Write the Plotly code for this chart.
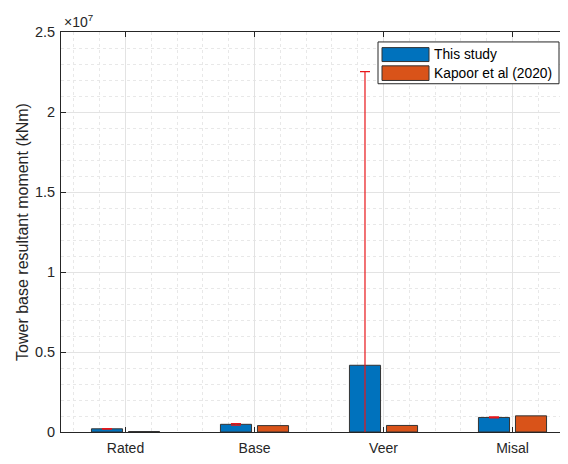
import plotly.graph_objects as go

categories = ["Rated", "Base", "Veer", "Misal"]
this_study = [0.20e6, 0.48e6, 4.17e6, 0.91e6]
this_study_err = [0.02e6, 0.05e6, 18.35e6, 0.03e6]
kapoor = [0.03e6, 0.40e6, 0.41e6, 1.01e6]
ytick_vals = [0, 0.5e7, 1.0e7, 1.5e7, 2.0e7, 2.5e7]
ytick_text = ["0", "0.5", "1", "1.5", "2", "2.5"]

BLUE = "#0072BD"
ORANGE = "#D95319"
EDGE = "#333333"
TXT = "#262626"
FONT = "Liberation Sans, Arial, sans-serif"

xpos = list(range(1, len(categories) + 1))

fig = go.Figure()
fig.add_trace(go.Bar(
    x=xpos, y=this_study, name="This study",
    marker=dict(color=BLUE, line=dict(color=EDGE, width=1)),
    error_y=dict(type="data", array=this_study_err, visible=True,
                 color="#e8161a", thickness=1.2, width=5),
    showlegend=False,
))
fig.add_trace(go.Bar(
    x=xpos, y=kapoor, name="Kapoor et al (2020)",
    marker=dict(color=ORANGE, line=dict(color=EDGE, width=1)),
    showlegend=False,
))

# page has an 8px body margin on every side; figure occupies window x 8..560
OFF = 8
W, H = 552, 448
L, R, T, B = 61 - OFF, 0, 32 - OFF, 19
pw = W - L - R
ph = H - T - B
cat_px = 129.0
x0 = 0.5
x1 = x0 + pw / cat_px

fig.update_layout(
    width=W, height=H,
    margin=dict(l=L, r=R, t=T, b=B, pad=0),
    paper_bgcolor="white", plot_bgcolor="white",
    barmode="group", bargap=0.426, bargroupgap=0.16,
    font=dict(family=FONT, color=TXT, size=14),
    xaxis=dict(
        range=[x0, x1], tickmode="array", tickvals=xpos, ticktext=categories,
        ticks="inside", ticklen=5, tickcolor=TXT, tickwidth=1,
        showline=True, linecolor=TXT, linewidth=1, mirror="ticks",
        showgrid=True, gridcolor="#e3e3e3", gridwidth=1,
        tickfont=dict(size=14, color=TXT), ticklabelstandoff=3,
        minor=dict(tickmode="linear", tick0=0, dtick=0.2, showgrid=True,
                   gridcolor="#e8e8e8", griddash="dot", gridwidth=1, ticks=""),
        zeroline=False,
    ),
    yaxis=dict(
        range=[0, 2.5e7], tickmode="array", tickvals=ytick_vals, ticktext=ytick_text,
        ticks="inside", ticklen=5, tickcolor=TXT, tickwidth=1,
        showline=True, linecolor=TXT, linewidth=1, mirror=False,
        showgrid=True, gridcolor="#e3e3e3", gridwidth=1,
        tickfont=dict(size=14.5, color=TXT), ticklabelstandoff=2,
        minor=dict(tickmode="linear", tick0=0, dtick=1e6, showgrid=True,
                   gridcolor="#e8e8e8", griddash="dot", gridwidth=1, ticks=""),
        zeroline=False,
        title=dict(text="Tower base resultant moment (kNm)", font=dict(size=16, color=TXT),
                   standoff=2),
    ),
)

def px_x(p):
    return (p - OFF - L) / pw

def px_y(p):
    # p: target window y in the reference; map onto the plot's frame
    y_top, y_bot = 32.0, 434.0
    return (y_bot - p) / (y_bot - y_top)

# exponent label
fig.add_annotation(text="×10<sup>7</sup>", xref="paper", yref="paper",
                   x=px_x(62), y=px_y(21), xanchor="left", yanchor="middle",
                   showarrow=False, font=dict(size=14, color=TXT))

# custom legend (MATLAB style)
LG = -4
fig.add_shape(type="rect", xref="paper", yref="paper",
              x0=px_x(382 + LG), x1=px_x(559), y0=px_y(84), y1=px_y(42),
              fillcolor="white", line=dict(color=TXT, width=1), layer="above")
legend_items = [("This study", BLUE, 47.7, 61.7), ("Kapoor et al (2020)", ORANGE, 66.0, 80.7)]
for name, col, ya, yb in legend_items:
    fig.add_shape(type="rect", xref="paper", yref="paper",
                  x0=px_x(386 + LG), x1=px_x(433 + LG), y0=px_y(yb), y1=px_y(ya),
                  fillcolor=col, line=dict(color=EDGE, width=1), layer="above")
    fig.add_annotation(text=name, xref="paper", yref="paper",
                       x=px_x(436 + LG), y=px_y((ya + yb) / 2), xanchor="left", yanchor="middle",
                       showarrow=False, font=dict(size=13.8, color="#000000"))

fig.write_html("out.html")
